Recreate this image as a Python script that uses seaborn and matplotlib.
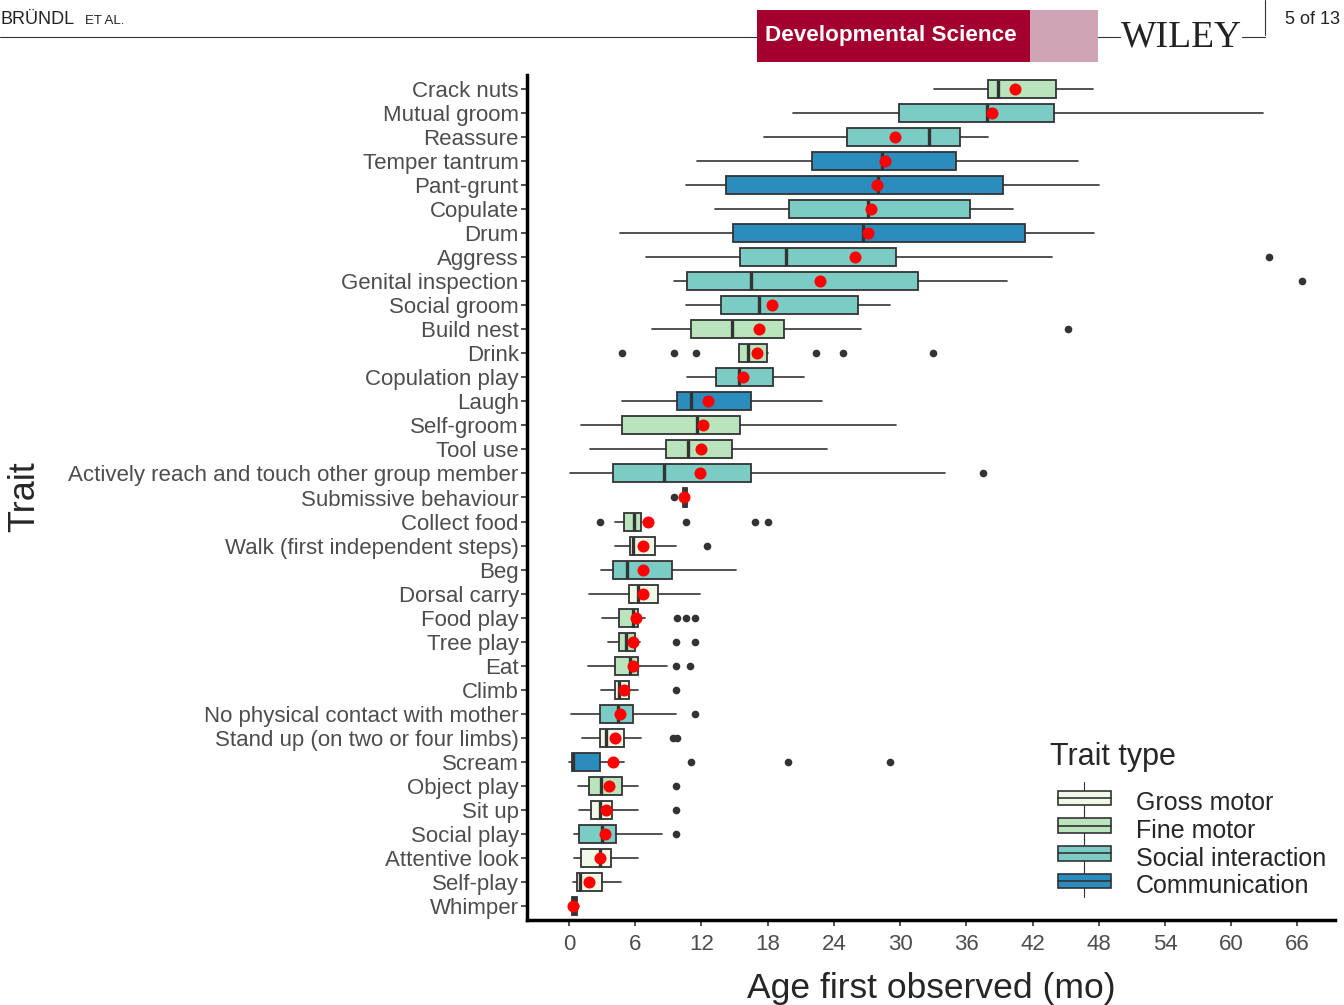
import matplotlib
matplotlib.use("Agg")
import matplotlib.pyplot as plt
import matplotlib.patches as mpatches
from matplotlib.lines import Line2D
from matplotlib.legend_handler import HandlerBase
import seaborn as sns

# data (months)
traits = ["Crack nuts", "Mutual groom", "Reassure", "Temper tantrum", "Pant-grunt",
          "Copulate", "Drum", "Aggress", "Genital inspection", "Social groom",
          "Build nest", "Drink", "Copulation play", "Laugh", "Self-groom", "Tool use",
          "Actively reach and touch other group member", "Submissive behaviour",
          "Collect food", "Walk (first independent steps)", "Beg", "Dorsal carry",
          "Food play", "Tree play", "Eat", "Climb", "No physical contact with mother",
          "Stand up (on two or four limbs)", "Scream", "Object play", "Sit up",
          "Social play", "Attentive look", "Self-play", "Whimper"]
trait_type = ["Fine motor", "Social interaction", "Social interaction", "Communication",
              "Communication", "Social interaction", "Communication", "Social interaction",
              "Social interaction", "Social interaction", "Fine motor", "Fine motor",
              "Social interaction", "Communication", "Fine motor", "Fine motor",
              "Social interaction", "Social interaction", "Fine motor", "Gross motor",
              "Social interaction", "Gross motor", "Fine motor", "Fine motor", "Fine motor",
              "Gross motor", "Social interaction", "Gross motor", "Communication",
              "Fine motor", "Gross motor", "Social interaction", "Gross motor",
              "Gross motor", "Communication"]
whisk_lo = [33.1, 20.3, 17.7, 11.6, 10.6, 13.2, 4.6, 7.0, 9.5, 10.6, 7.5, 15.4, 10.7, 4.8,
            1.1, 1.9, 0.1, 10.3, 4.2, 4.2, 2.9, 1.8, 3.0, 3.5, 1.7, 2.9, 0.2, 1.2, 0.0,
            0.8, 0.9, 0.5, 0.5, 0.4, 0.2]
q1 = [38.0, 29.9, 25.2, 22.0, 14.2, 19.9, 14.9, 15.5, 10.7, 13.8, 11.1, 15.4, 13.3, 9.8,
      4.8, 8.8, 4.0, 10.3, 5.0, 5.5, 4.0, 5.4, 4.5, 4.5, 4.2, 4.2, 2.8, 2.8, 0.3, 1.8,
      2.0, 0.9, 1.1, 0.7, 0.25]
median = [38.9, 37.9, 32.6, 28.4, 28.0, 27.1, 26.6, 19.7, 16.5, 17.2, 14.8, 16.2, 15.4,
          11.1, 11.6, 10.8, 8.6, 10.5, 5.9, 5.8, 5.3, 6.3, 5.8, 5.2, 5.5, 4.5, 4.4, 3.4,
          0.4, 2.9, 2.8, 3.0, 2.8, 1.0, 0.5]
q3 = [44.1, 43.9, 35.4, 35.1, 39.3, 36.3, 41.3, 29.6, 31.6, 26.2, 19.5, 17.9, 18.5, 16.5,
      15.5, 14.8, 16.5, 10.7, 6.5, 7.8, 9.3, 8.1, 6.3, 6.0, 6.3, 5.4, 5.8, 5.0, 2.8, 4.8,
      3.9, 4.3, 3.8, 3.0, 0.7]
whisk_hi = [47.5, 62.9, 38.0, 46.1, 48.0, 40.2, 47.6, 43.8, 39.7, 29.1, 26.5, 18.0, 21.3,
            22.9, 29.6, 23.4, 34.1, 10.7, 6.6, 9.7, 15.1, 11.9, 6.9, 6.4, 8.9, 6.3, 9.7,
            6.5, 5.0, 6.3, 6.3, 8.4, 6.3, 4.7, 0.9]
means = [40.4, 38.3, 29.5, 28.6, 27.9, 27.4, 27.1, 25.9, 22.7, 18.4, 17.2, 17.0, 15.8,
         12.6, 12.1, 12.0, 11.9, 10.4, 7.2, 6.7, 6.7, 6.7, 6.1, 5.8, 5.8, 5.0, 4.6, 4.2,
         4.0, 3.6, 3.4, 3.3, 2.8, 1.8, 0.4]
outliers = [[], [], [], [], [], [], [], [63.4], [66.4], [], [45.2],
            [4.8, 9.5, 11.5, 22.4, 24.8, 33.0], [], [], [], [], [37.5], [9.5],
            [2.8, 10.6, 16.9, 18.0], [12.5], [], [], [9.8, 10.6, 11.4], [9.7, 11.4],
            [9.7, 11.0], [9.7], [11.4], [9.4, 9.8], [11.1, 19.8, 29.1], [9.7], [9.7],
            [9.7], [], [], []]

type_names = ["Gross motor", "Fine motor", "Social interaction", "Communication"]
type_colors = dict(zip(type_names, ["#f0f9e8", "#bae4bc", "#7bccc4", "#2b8cbe"]))

sns.set_theme(style="ticks")
plt.rcParams['font.family'] = ['Liberation Sans', 'DejaVu Sans']

fig = plt.figure(figsize=(13.44, 10.05), dpi=100)
ax = fig.add_axes([527 / 1344, 85 / 1005, (1335 - 527) / 1344, (920 - 75) / 1005])

pos = list(range(len(traits)))
stats = []
for i in pos:
    stats.append(dict(whislo=whisk_lo[i], q1=q1[i], med=median[i], q3=q3[i],
                      whishi=whisk_hi[i], fliers=outliers[i]))

dark = "#333333"
bp = ax.bxp(stats, positions=pos, widths=0.75, orientation="horizontal",
            patch_artist=True, showcaps=False,
            boxprops=dict(edgecolor=dark, linewidth=1.3),
            whiskerprops=dict(color=dark, linewidth=1.2),
            medianprops=dict(color=dark, linewidth=2.4),
            flierprops=dict(marker="o", markerfacecolor=dark, markeredgecolor="none",
                            markersize=5.5))
for patch, t in zip(bp["boxes"], trait_type):
    patch.set_facecolor(type_colors[t])

# means as red points
sns.scatterplot(x=means, y=pos, color="red", s=75, linewidth=0, zorder=5, ax=ax,
                legend=False)

ax.set_ylim(len(traits) - 0.4, -0.6)
ax.set_xlim(-3.8, 69.4)
ax.set_yticks(pos)
ax.set_yticklabels(traits)
ax.set_xticks(range(0, 67, 6))
ax.tick_params(axis="y", labelsize=16, colors=dark, labelcolor="#4d4d4d", length=4,
               width=1.2, pad=2)
ax.tick_params(axis="x", labelsize=16, colors=dark, labelcolor="#4d4d4d", length=4,
               width=1.2, pad=6)
for s in ["top", "right"]:
    ax.spines[s].set_visible(False)
for s in ["left", "bottom"]:
    ax.spines[s].set_linewidth(2.5)
    ax.spines[s].set_color("black")
ax.set_xlabel("Age first observed (mo)", fontsize=25.5, labelpad=12)
ax.set_ylabel("")
fig.text(25 / 1344, 1 - 497 / 1005, "Trait", rotation=90, fontsize=26,
         ha="center", va="center")


class BoxKey(HandlerBase):
    def create_artists(self, legend, orig, xd, yd, width, height, fontsize, trans):
        cx = xd + width / 2
        cy = yd + height / 2
        h = height * 0.7
        rect = mpatches.Rectangle((xd, cy - h / 2), width, h,
                                  facecolor=orig.get_facecolor(), edgecolor=dark,
                                  linewidth=1.2, transform=trans)
        mid = Line2D([xd, xd + width], [cy, cy], color=dark, lw=1.2, transform=trans)
        vert = Line2D([cx, cx], [yd - height * 0.25, yd + height * 1.25], color=dark,
                      lw=0.8, transform=trans)
        return [vert, rect, mid]


fig.text(1050 / 1344, 1 - 757 / 1005, "Trait type", fontsize=22, va="center", ha="left")
handles = [mpatches.Patch(facecolor=type_colors[t], label=t) for t in type_names]
leg = fig.legend(handles=handles, labels=type_names, handler_map={mpatches.Patch: BoxKey()},
                 loc="upper left", bbox_to_anchor=(1058 / 1344, 1 - 791 / 1005),
                 frameon=False, fontsize=18, borderpad=0, borderaxespad=0,
                 handlelength=2.1, handleheight=0.9, handletextpad=1.0,
                 labelspacing=0.15)
leg._legend_box.align = "left"

# journal page header
fig.text(1 / 1344, 1 - 20 / 1005, "BRÜNDL", fontsize=13, va="center", color="#222222")
fig.text(85 / 1344, 1 - 21 / 1005, "ET AL.", fontsize=9.5, va="center", color="#222222")
fig.add_artist(Line2D([0, 757 / 1344], [1 - 37 / 1005] * 2, color="#333333", lw=0.8))
fig.add_artist(mpatches.Rectangle((757 / 1344, 1 - 62 / 1005), 341 / 1344, 52 / 1005,
                                  facecolor="#a3002f", edgecolor="none"))
fig.add_artist(mpatches.Rectangle((1030 / 1344, 1 - 62 / 1005), 68 / 1344, 52 / 1005,
                                  facecolor="#d8c2ce", edgecolor="none", alpha=0.85))
fig.text(765 / 1344, 1 - 36 / 1005, "Developmental Science", color="white",
         fontsize=16.2, fontweight="bold", va="center")
fig.add_artist(Line2D([1098 / 1344, 1120 / 1344], [1 - 37 / 1005] * 2, color="#333333", lw=0.8))
fig.text(1181 / 1344, 1 - 37 / 1005, "WILEY", fontsize=27, va="center", ha="center",
         family=["Liberation Serif", "DejaVu Serif"], color="#222222")
fig.add_artist(Line2D([1242 / 1344, 1265 / 1344], [1 - 37 / 1005] * 2, color="#333333", lw=0.8))
fig.add_artist(Line2D([1265 / 1344] * 2, [1 - 35 / 1005, 1.0], color="#333333", lw=0.8))
fig.text(1285 / 1344, 1 - 19 / 1005, "5 of 13", fontsize=13, va="center", color="#222222")

fig.savefig("out.png", dpi=100)
